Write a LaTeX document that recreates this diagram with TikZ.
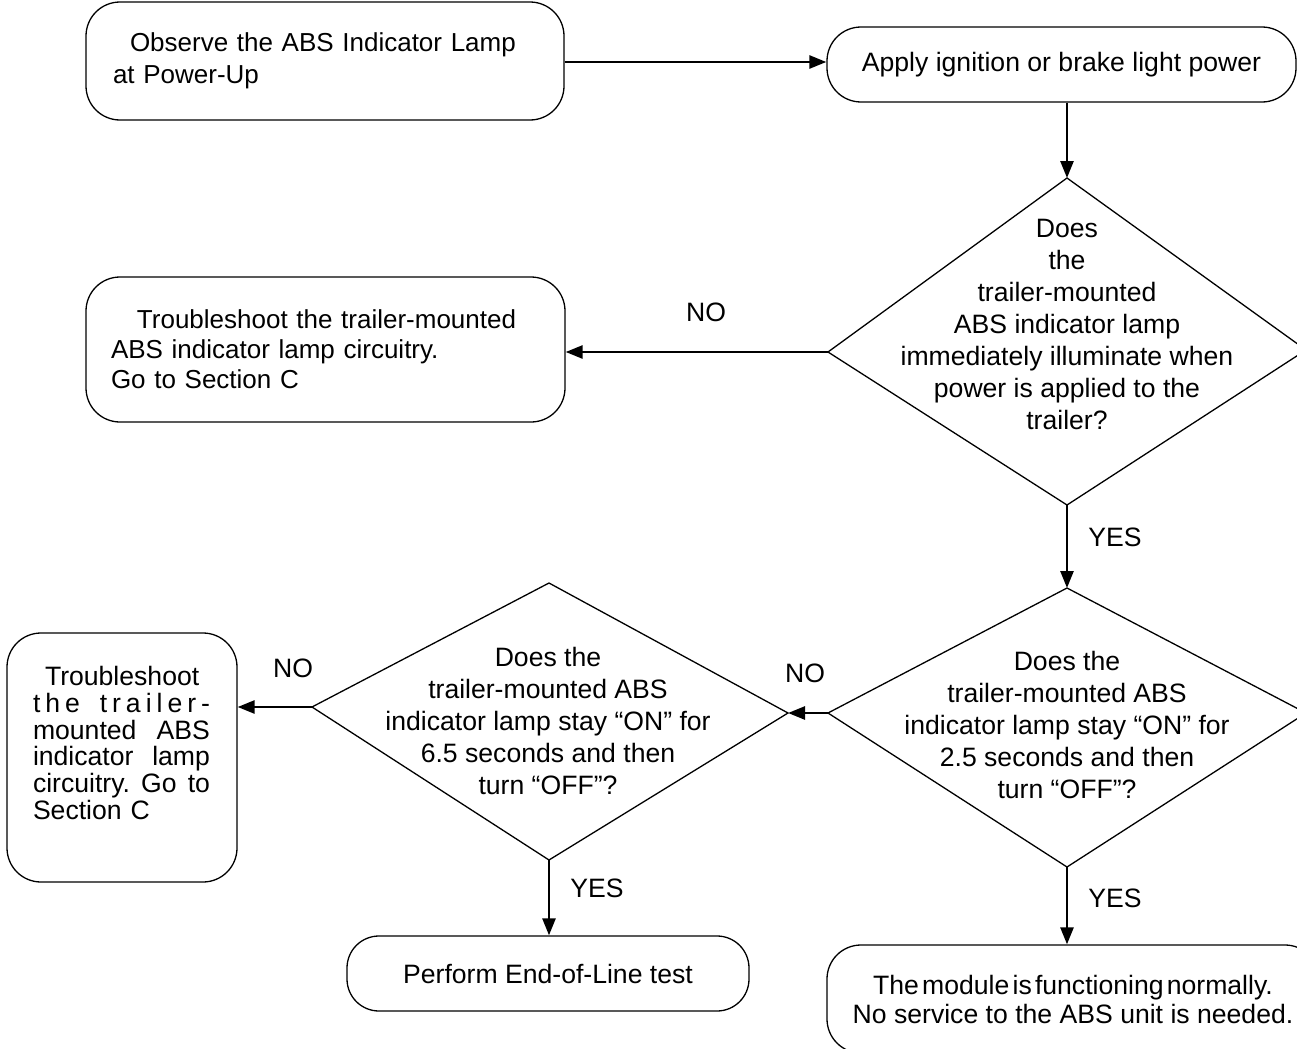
\documentclass[tikz,border=0pt]{standalone}
\usepackage{fontspec}
\setmainfont{Liberation Sans}
\usetikzlibrary{arrows.meta}
\begin{document}
\begin{tikzpicture}[x=0.5pt,y=-0.5pt,
  box/.style={draw, line width=0.65pt, rounded corners=17pt, inner sep=0pt, font=\fontsize{13.3}{16}\selectfont},
  dia/.style={draw, line width=0.65pt, line join=miter},
  txt/.style={font=\fontsize{13.3}{16}\selectfont, align=center, inner sep=0pt},
  lbl/.style={font=\fontsize{13.3}{16}\selectfont, inner sep=0pt},
  arr/.style={line width=1.3pt, -{Triangle[length=8.5pt,width=6.5pt]}}]
\path[use as bounding box, clip] (0,0) rectangle (1297,1049);
\fill[white] (0,0) rectangle (1297,1049);

% boxes
\node[box, minimum width=239pt, minimum height=59pt, text width=212pt, inner xsep=13.5pt, align=left,
  font=\fontsize{13}{16}\selectfont] (b1) at (325,61)
  {\hspace*{8.5pt}Observe the ABS Indicator Lamp\\at Power-Up};
\node[box, minimum width=234.5pt, minimum height=37.5pt] (b2) at (1061.5,64.5)
  {Apply ignition or brake light power};
\node[box, minimum width=239.5pt, minimum height=72.5pt, text width=214.5pt, inner xsep=12.5pt, align=left,
  font=\fontsize{13}{15}\selectfont] (b3) at (325.5,349.5)
  {\hspace*{13pt}Troubleshoot the trailer-mounted\\ABS indicator lamp circuitry.\\Go to Section C};
\node[box, minimum width=115pt, minimum height=124.5pt] (b4) at (122,757.5) {};
\node[lbl, text width=88.5pt, align=left, font=\fontsize{13.3}{13.35}\selectfont] (t4) at (121.5,743)
  {\hspace*{6pt}Troubleshoot\\
   \makebox[88.5pt][s]{t\hfil h\hfil e\hfil\hfil\hfil\hfil t\hfil r\hfil a\hfil i\hfil l\hfil e\hfil r\hfil -}\\
   \makebox[88.5pt][s]{mounted\hfil ABS}\\
   \makebox[88.5pt][s]{indicator\hfil lamp}\\
   \makebox[88.5pt][s]{circuitry.\hfil Go\hfil to}\\
   Section C};
\node[box, minimum width=201pt, minimum height=37.5pt, rounded corners=16pt] (b5) at (548,973.5)
  {Perform End-of-Line test};
\node[box, minimum width=246pt, minimum height=54pt, align=center, font=\fontsize{13.3}{14.5}\selectfont] (b6) at (1073,999)
  {{\spaceskip=0.12em The module is functioning normally.}\\No service to the ABS unit is needed.};

% diamonds
\coordinate (d1t) at (1067,178);
\coordinate (d1r) at (1306,350);
\coordinate (d1b) at (1067,505);
\coordinate (d1l) at (828,352);
\draw[dia] (d1t) -- (d1r) -- (d1b) -- (d1l) -- cycle;
\node[txt] (t1) at (1067,324)
  {Does\\the\\trailer-mounted\\ABS indicator lamp\\immediately illuminate when\\power is applied to the\\trailer?};

\coordinate (d2t) at (549,583);
\coordinate (d2r) at (788,713);
\coordinate (d2b) at (549,860);
\coordinate (d2l) at (312,707);
\draw[dia] (d2t) -- (d2r) -- (d2b) -- (d2l) -- cycle;
\node[txt] (t2) at (548,721)
  {Does the\\trailer-mounted ABS\\indicator lamp stay “ON” for\\6.5 seconds and then\\turn “OFF”?};

\coordinate (d3t) at (1067,588);
\coordinate (d3r) at (1306,713);
\coordinate (d3b) at (1067,867);
\coordinate (d3l) at (828,713);
\draw[dia] (d3t) -- (d3r) -- (d3b) -- (d3l) -- cycle;
\node[txt] (t3) at (1067,724.5)
  {Does the\\trailer-mounted ABS\\indicator lamp stay “ON” for\\2.5 seconds and then\\turn “OFF”?};

% connectors
\draw[arr] (b1.east |- 0,62) -- (b2.west |- 0,62);
\draw[arr] (d1t |- b2.south) -- (d1t);
\draw[arr] (d1l) -- (d1l -| b3.east);
\draw[arr] (d1b) -- (d3t);
\draw[arr] (d3l) -- (d2r);
\draw[arr] (d2l) -- (d2l -| b4.east);
\draw[arr] (d2b) -- (d2b |- b5.north);
\draw[arr] (d3b) -- (d3b |- b6.north);

% labels
\node[lbl] (n1) at (706,312) {NO};
\node[lbl] (y1) at (1115,537) {YES};
\node[lbl] (n2) at (805,673) {NO};
\node[lbl] (n3) at (293,668) {NO};
\node[lbl] (y2) at (597,888) {YES};
\node[lbl] (y3) at (1115,898) {YES};
\end{tikzpicture}
\end{document}
